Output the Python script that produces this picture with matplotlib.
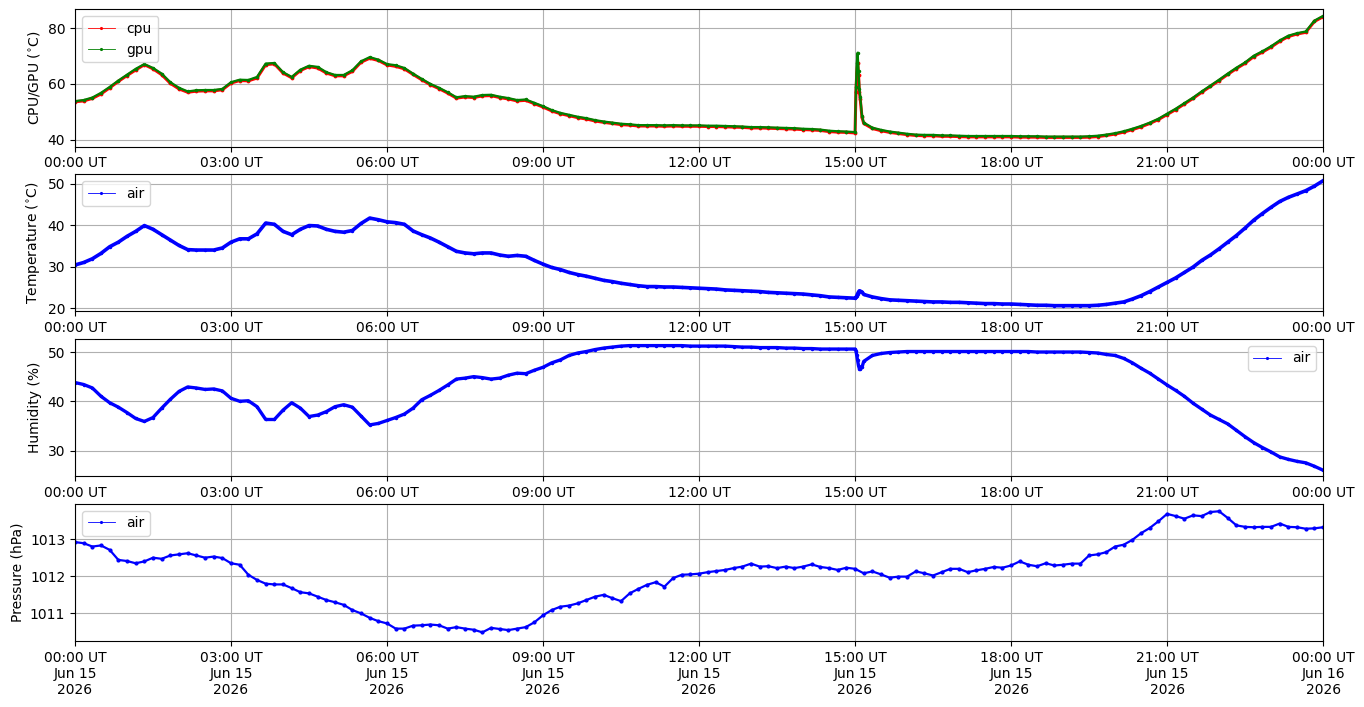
import numpy as np
import matplotlib
matplotlib.use("Agg")
import matplotlib.pyplot as plt
import matplotlib.dates as mdates
from matplotlib.lines import Line2D

# valores leidos cada 10 minutos, 00:00 -> 24:00 (145 puntos)
gpu = [
    53.8, 54.2, 55.1, 56.8, 58.9, 61.2,
    63.3, 65.4, 67.1, 65.7, 63.7, 60.6,
    58.6, 57.3, 57.7, 57.8, 57.8, 58.2,
    60.6, 61.5, 61.4, 62.5, 67.3, 67.5,
    64.2, 62.5, 65.1, 66.5, 66.1, 64.2,
    63.2, 63.2, 64.9, 68.1, 69.6, 68.7,
    67.1, 66.7, 65.7, 63.7, 61.8, 60.0,
    58.6, 57.0, 55.2, 55.6, 55.4, 56.0,
    56.1, 55.4, 54.9, 54.2, 54.4, 53.2,
    52.0, 50.6, 49.6, 48.9, 48.2, 47.7,
    47.0, 46.5, 46.1, 45.7, 45.5, 45.2,
    45.2, 45.2, 45.1, 45.2, 45.1, 45.1,
    45.1, 45.0, 45.0, 44.9, 44.8, 44.7,
    44.5, 44.5, 44.4, 44.3, 44.2, 44.1,
    43.9, 43.8, 43.6, 43.2, 43.0, 42.9,
    42.7, 46.1, 44.3, 43.5, 42.9, 42.5,
    42.1, 41.8, 41.7, 41.7, 41.5, 41.5,
    41.4, 41.3, 41.3, 41.3, 41.3, 41.3,
    41.3, 41.2, 41.2, 41.2, 41.1, 41.1,
    41.1, 41.1, 41.1, 41.2, 41.4, 41.8,
    42.3, 43.0, 43.9, 44.9, 46.1, 47.5,
    49.3, 51.1, 53.1, 55.1, 57.3, 59.4,
    61.5, 63.7, 65.8, 67.7, 70.1, 71.7,
    73.5, 75.6, 77.3, 78.2, 78.8, 82.7,
    84.4,
]
cpu = [
    53.6, 53.9, 54.8, 56.4, 58.6, 60.9,
    63.0, 65.0, 66.9, 65.4, 63.3, 60.2,
    58.2, 57.0, 57.4, 57.5, 57.5, 57.9,
    60.3, 61.2, 61.1, 62.1, 66.9, 67.2,
    63.9, 62.2, 64.8, 66.2, 65.7, 63.9,
    62.9, 62.9, 64.5, 67.8, 69.2, 68.4,
    66.8, 66.3, 65.4, 63.4, 61.5, 59.7,
    58.3, 56.7, 54.9, 55.3, 55.1, 55.7,
    55.8, 55.1, 54.6, 53.9, 54.1, 52.9,
    51.7, 50.3, 49.3, 48.6, 47.9, 47.4,
    46.7, 46.2, 45.8, 45.4, 45.2, 44.9,
    44.9, 44.9, 44.8, 44.9, 44.8, 44.8,
    44.8, 44.7, 44.7, 44.6, 44.5, 44.4,
    44.2, 44.2, 44.1, 44.0, 43.9, 43.8,
    43.6, 43.5, 43.3, 42.9, 42.7, 42.6,
    42.4, 45.8, 44.0, 43.2, 42.6, 42.2,
    41.8, 41.5, 41.4, 41.4, 41.2, 41.2,
    41.1, 41.0, 41.0, 41.0, 41.0, 41.0,
    41.0, 40.9, 40.9, 40.9, 40.8, 40.8,
    40.8, 40.8, 40.8, 40.9, 41.1, 41.5,
    42.0, 42.7, 43.6, 44.6, 45.8, 47.2,
    49.0, 50.8, 52.8, 54.8, 57.0, 59.1,
    61.2, 63.4, 65.5, 67.4, 69.8, 71.4,
    73.2, 75.3, 77.0, 77.9, 78.5, 82.4,
    84.1,
]
temp_air = [
    30.4, 31.0, 31.9, 33.2, 34.8, 35.9,
    37.3, 38.5, 39.9, 39.0, 37.7, 36.4,
    35.1, 34.1, 34.0, 34.0, 34.0, 34.5,
    35.9, 36.7, 36.7, 37.9, 40.5, 40.2,
    38.5, 37.7, 39.0, 39.9, 39.8, 39.0,
    38.5, 38.3, 38.7, 40.4, 41.7, 41.3,
    40.8, 40.6, 40.2, 38.6, 37.7, 36.9,
    35.9, 34.8, 33.7, 33.3, 33.1, 33.3,
    33.3, 32.8, 32.5, 32.7, 32.5, 31.5,
    30.6, 29.8, 29.3, 28.6, 28.1, 27.7,
    27.2, 26.7, 26.4, 26.0, 25.7, 25.4,
    25.2, 25.2, 25.1, 25.1, 25.0, 24.9,
    24.8, 24.7, 24.6, 24.4, 24.3, 24.2,
    24.1, 24.0, 23.8, 23.7, 23.6, 23.5,
    23.4, 23.2, 23.0, 22.7, 22.6, 22.5,
    22.4, 23.3, 22.7, 22.3, 22.0, 21.9,
    21.8, 21.7, 21.6, 21.5, 21.5, 21.4,
    21.4, 21.3, 21.2, 21.1, 21.1, 21.0,
    21.0, 20.9, 20.8, 20.7, 20.7, 20.6,
    20.6, 20.6, 20.6, 20.6, 20.7, 20.9,
    21.2, 21.5, 22.2, 23.0, 24.0, 25.1,
    26.2, 27.3, 28.6, 29.9, 31.5, 32.8,
    34.3, 35.9, 37.5, 39.3, 41.2, 42.8,
    44.3, 45.7, 46.7, 47.5, 48.3, 49.4,
    50.7,
]
hum_air = [
    43.8, 43.4, 42.7, 41.0, 39.7, 38.8,
    37.7, 36.5, 35.9, 36.7, 38.6, 40.4,
    42.0, 42.9, 42.7, 42.4, 42.5, 42.1,
    40.6, 40.0, 40.1, 38.9, 36.3, 36.3,
    38.2, 39.7, 38.6, 36.9, 37.2, 37.9,
    38.9, 39.3, 38.8, 37.0, 35.2, 35.5,
    36.1, 36.7, 37.4, 38.6, 40.3, 41.2,
    42.2, 43.3, 44.5, 44.7, 45.0, 44.8,
    44.5, 44.7, 45.3, 45.7, 45.6, 46.3,
    46.9, 47.8, 48.4, 49.3, 49.8, 50.1,
    50.5, 50.8, 51.0, 51.2, 51.3, 51.3,
    51.3, 51.3, 51.3, 51.3, 51.3, 51.2,
    51.2, 51.2, 51.2, 51.2, 51.1, 51.0,
    51.0, 50.9, 50.9, 50.9, 50.8, 50.8,
    50.7, 50.7, 50.6, 50.6, 50.6, 50.6,
    50.6, 48.1, 49.3, 49.7, 49.9, 50.0,
    50.1, 50.1, 50.1, 50.1, 50.1, 50.1,
    50.1, 50.1, 50.1, 50.1, 50.1, 50.1,
    50.1, 50.1, 50.1, 50.0, 50.0, 50.0,
    50.0, 50.0, 50.0, 49.9, 49.8, 49.5,
    49.3, 48.7, 47.8, 46.7, 45.7, 44.5,
    43.3, 42.2, 41.0, 39.6, 38.4, 37.2,
    36.3, 35.4, 34.1, 32.8, 31.6, 30.6,
    29.7, 28.7, 28.2, 27.8, 27.5, 26.8,
    26.0,
]
pres_air = [
    1012.92, 1012.89, 1012.80, 1012.83, 1012.71, 1012.44,
    1012.41, 1012.35, 1012.40, 1012.50, 1012.47, 1012.56,
    1012.59, 1012.62, 1012.56, 1012.50, 1012.53, 1012.49,
    1012.35, 1012.31, 1012.04, 1011.90, 1011.80, 1011.78,
    1011.78, 1011.68, 1011.57, 1011.54, 1011.45, 1011.36,
    1011.30, 1011.23, 1011.09, 1011.00, 1010.88, 1010.79,
    1010.73, 1010.59, 1010.59, 1010.67, 1010.68, 1010.70,
    1010.68, 1010.59, 1010.63, 1010.59, 1010.56, 1010.49,
    1010.61, 1010.58, 1010.55, 1010.59, 1010.63, 1010.76,
    1010.95, 1011.09, 1011.18, 1011.21, 1011.27, 1011.36,
    1011.45, 1011.50, 1011.41, 1011.33, 1011.54, 1011.66,
    1011.77, 1011.84, 1011.72, 1011.95, 1012.04, 1012.05,
    1012.07, 1012.11, 1012.14, 1012.17, 1012.22, 1012.26,
    1012.34, 1012.26, 1012.27, 1012.22, 1012.26, 1012.22,
    1012.26, 1012.32, 1012.25, 1012.22, 1012.17, 1012.23,
    1012.20, 1012.08, 1012.13, 1012.05, 1011.96, 1011.99,
    1011.99, 1012.13, 1012.08, 1012.02, 1012.11, 1012.20,
    1012.20, 1012.11, 1012.16, 1012.20, 1012.25, 1012.23,
    1012.29, 1012.40, 1012.31, 1012.27, 1012.35, 1012.29,
    1012.31, 1012.34, 1012.34, 1012.56, 1012.59, 1012.65,
    1012.80, 1012.85, 1012.98, 1013.16, 1013.30, 1013.48,
    1013.68, 1013.62, 1013.55, 1013.64, 1013.62, 1013.73,
    1013.75, 1013.57, 1013.37, 1013.33, 1013.32, 1013.33,
    1013.33, 1013.42, 1013.33, 1013.32, 1013.28, 1013.29,
    1013.32,
]

# pico corto justo despues de las 15:00 (minutos desde 00:00)
spike_min = [901, 902, 903, 904, 905, 906, 908]
spike_gpu = [59.0, 67.5, 71.2, 64.8, 58.0, 55.4, 48.5]
spike_cpu = [57.0, 64.0, 67.5, 63.3, 57.0, 54.5, 48.0]
spike_temp = [22.6, 23.0, 23.5, 23.9, 24.2, 24.1, 23.9]
spike_hum = [50.3, 49.3, 48.4, 47.2, 46.6, 46.5, 46.9]

t0 = np.datetime64('2026-06-15T00:00')
base_min = np.arange(0, 24 * 60 + 1, 10)


def merge(vals, extra):
    m = np.concatenate([base_min, spike_min])
    v = np.concatenate([vals, extra])
    idx = np.argsort(m)
    return t0 + m[idx].astype('timedelta64[m]'), v[idx]


t_base = t0 + base_min.astype('timedelta64[m]')
t_gpu, y_gpu = merge(gpu, spike_gpu)
t_cpu, y_cpu = merge(cpu, spike_cpu)
t_tmp, y_tmp = merge(temp_air, spike_temp)
t_hum, y_hum = merge(hum_air, spike_hum)

fig, axs = plt.subplots(4, 1, figsize=(13.64, 7.07), dpi=100)
fig.subplots_adjust(left=0.055, right=0.97, top=0.987, bottom=0.093, hspace=0.2)


def handle(c):
    return Line2D([], [], color=c, lw=0.6, marker='.', ms=2.5)


ax = axs[0]
ax.plot(t_cpu, y_cpu, color='red', lw=2.2, marker='.', ms=3.5)
ax.plot(t_gpu, y_gpu, color='green', lw=1.6, marker='.', ms=3)
ax.set_ylabel(r'CPU/GPU ($^{\circ}$C)')
ax.set_ylim(37.5, 86.8)
ax.set_yticks([40, 60, 80])
ax.legend([handle('red'), handle('green')], ['cpu', 'gpu'], loc='upper left')

ax = axs[1]
ax.plot(t_tmp, y_tmp, color='blue', lw=2.6, marker='.', ms=3)
ax.set_ylabel(r'Temperature ($^{\circ}$C)')
ax.set_ylim(19.2, 52.3)
ax.set_yticks([20, 30, 40, 50])
ax.legend([handle('blue')], ['air'], loc='upper left')

ax = axs[2]
ax.plot(t_hum, y_hum, color='blue', lw=2.4, marker='.', ms=3)
ax.set_ylabel('Humidity (%)')
ax.set_ylim(24.75, 52.65)
ax.set_yticks([30, 40, 50])
ax.legend([handle('blue')], ['air'], loc='upper right')

ax = axs[3]
ax.plot(t_base, pres_air, color='blue', lw=1.6, marker='.', ms=4)
ax.set_ylabel('Pressure (hPa)')
ax.set_ylim(1010.25, 1013.95)
ax.set_yticks([1011, 1012, 1013])
ax.legend([handle('blue')], ['air'], loc='upper left')

for i, ax in enumerate(axs):
    ax.set_xlim(t0, t0 + np.timedelta64(24 * 60, 'm'))
    ax.xaxis.set_major_locator(mdates.HourLocator(byhour=range(0, 24, 3)))
    if i < 3:
        ax.xaxis.set_major_formatter(mdates.DateFormatter('%H:%M UT'))
    else:
        ax.xaxis.set_major_formatter(mdates.DateFormatter('%H:%M UT\n%b %d\n%Y'))
    ax.grid(True)

fig.savefig('out.png', dpi=100)
